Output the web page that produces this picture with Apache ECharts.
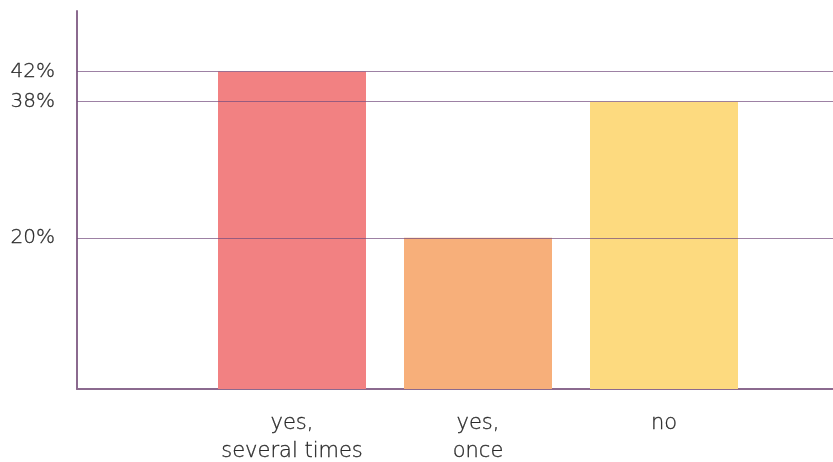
<!DOCTYPE html>
<html>
<head>
<meta charset="utf-8">
<script src="https://cdn.jsdelivr.net/npm/echarts@6/dist/echarts.min.js"></script>
<style>
  html, body { margin: 0; padding: 0; background: #fff; }
  #chart { width: 833px; height: 462px; }
</style>
</head>
<body>
<div id="chart"></div>
<script>
// Survey answers and their shares (%)
const categories = ['yes,\nseveral times', 'yes,\nonce', 'no'];
const shares = [42, 20, 38];
const barColors = ['#F28182', '#F7AF7A', '#FDDA7F'];
// Reference levels marked on the value axis
const gridLevels = [20, 38, 42];

const AXIS_COLOR = '#8B6A8F';
const FONT = '"DejaVu Sans", sans-serif';
const TEXT_COLOR = '#2a2a2a';

// light face, slightly thickened with a thin outline in the same colour
const textStyle = {
  color: TEXT_COLOR, fontFamily: FONT, fontWeight: 200,
  textBorderColor: TEXT_COLOR, textBorderWidth: 0.3
};

const chart = echarts.init(document.getElementById('chart'));

chart.setOption({
  animation: false,
  grid: [
    // frame: axes, labels and reference lines
    { left: 77, right: 0, top: 11, bottom: 73, outerBoundsMode: 'none', containLabel: false },
    // bars
    { left: 199, width: 558, top: 11, bottom: 73, outerBoundsMode: 'none', containLabel: false }
  ],
  xAxis: [
    {
      gridIndex: 0, type: 'value', min: 0, max: 1,
      axisLine: { show: true, lineStyle: { color: AXIS_COLOR, width: 2 } },
      axisTick: { show: false }, axisLabel: { show: false }, splitLine: { show: false }
    },
    {
      gridIndex: 1, type: 'category', data: categories,
      axisLine: { show: false }, axisTick: { show: false },
      axisLabel: Object.assign({ margin: 21, fontSize: 21, lineHeight: 28 }, textStyle)
    }
  ],
  yAxis: [
    {
      gridIndex: 0, type: 'value', min: 0, max: 50,
      axisLine: { show: true, lineStyle: { color: AXIS_COLOR, width: 2 } },
      axisTick: { show: false }, splitLine: { show: false },
      axisLabel: Object.assign({
        customValues: gridLevels, formatter: '{value}%', margin: 22, fontSize: 20
      }, textStyle)
    },
    {
      gridIndex: 1, type: 'value', min: 0, max: 50, show: false
    }
  ],
  series: [
    {
      type: 'bar', xAxisIndex: 1, yAxisIndex: 1, z: 2,
      barWidth: 148,
      data: shares.map((v, i) => ({ value: v, itemStyle: { color: barColors[i] } }))
    },
    {
      // reference lines drawn over the bars
      type: 'line', xAxisIndex: 0, yAxisIndex: 0, z: 5, data: [],
      markLine: {
        silent: true, symbol: 'none', label: { show: false },
        lineStyle: { type: 'solid', color: 'rgba(115,75,125,0.7)', width: 1 },
        data: gridLevels.map(v => ({ yAxis: v }))
      }
    }
  ]
});
</script>
</body>
</html>
